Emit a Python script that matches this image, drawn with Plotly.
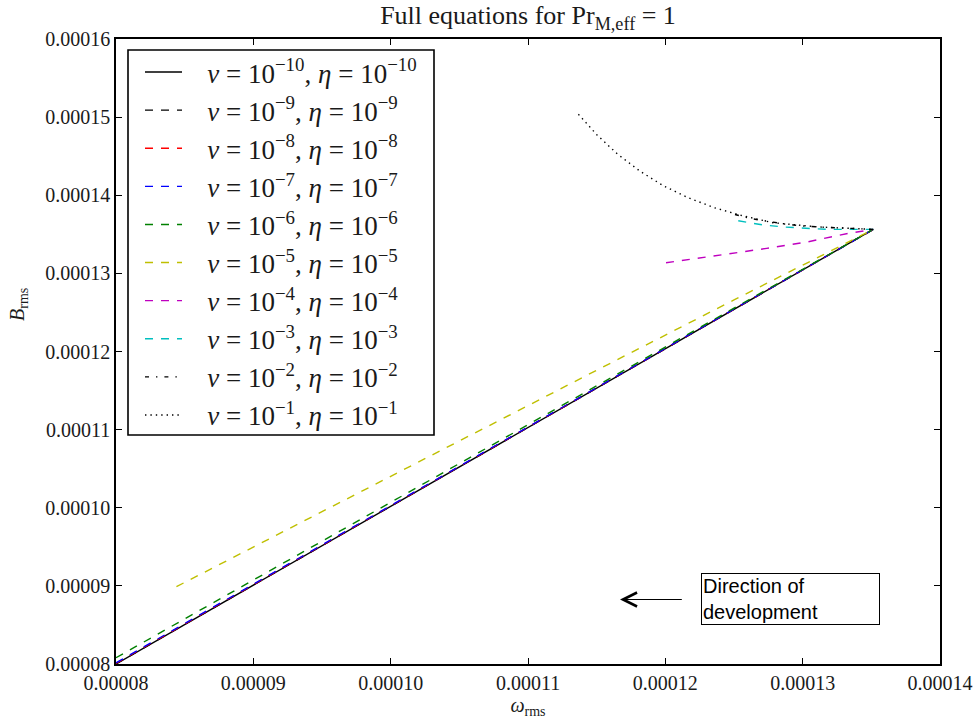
import plotly.graph_objects as go

# ---------------- data ----------------
exponents = ["10", "9", "8", "7", "6", "5", "4", "3", "2", "1"]
labels = [
    "\u00a0\u00a0\u00a0<i>ν</i> = 10<sup>−%s</sup>, <i>η</i> = 10<sup>−%s</sup>" % (e, e)
    for e in exponents
]

# omega_rms (x) and B_rms (y), units of 1e-5
w_1e10 = [8.0, 9.0, 10.0, 11.0, 12.0, 13.0, 13.514]
b_1e10 = [8.0, 9.01, 10.02, 11.03, 12.04, 13.05, 13.563]
w_1e9 = [8.0, 9.0, 10.0, 11.0, 12.0, 13.0, 13.514]
b_1e9 = [8.003, 9.012, 10.022, 11.032, 12.041, 13.051, 13.563]
w_1e8 = [8.0, 9.0, 10.0, 11.0, 12.0, 13.0, 13.514]
b_1e8 = [8.008, 9.016, 10.025, 11.034, 12.043, 13.052, 13.563]
w_1e7 = [8.0, 9.0, 10.0, 11.0, 12.0, 13.0, 13.514]
b_1e7 = [8.015, 9.022, 10.03, 11.038, 12.045, 13.053, 13.563]
w_1e6 = [8.0, 9.0, 10.0, 11.0, 12.0, 13.0, 13.514]
b_1e6 = [8.08, 9.076, 10.071, 11.067, 12.062, 13.057, 13.563]
w_1e5 = [8.44, 9.5, 10.5, 11.5, 12.5, 13.514]
b_1e5 = [8.99, 9.95, 10.86, 11.76, 12.66, 13.563]
w_1e4 = [12.005, 12.435, 12.738, 13.041, 13.332, 13.514]
b_1e4 = [13.136, 13.243, 13.320, 13.405, 13.512, 13.563]
w_1e3 = [12.531, 12.718, 12.871, 13.017, 13.177, 13.514]
b_1e3 = [13.673, 13.618, 13.593, 13.576, 13.563, 13.563]
w_1e2 = [12.507, 12.631, 12.871, 12.98, 13.126, 13.344, 13.514]
b_1e2 = [13.753, 13.699, 13.631, 13.61, 13.593, 13.576, 13.563]
w_1e1 = [11.367, 11.503, 11.651, 11.814, 11.985, 12.167, 12.357, 12.551, 12.784, 13.126, 13.417, 13.514]
b_1e1 = [15.036, 14.771, 14.528, 14.31, 14.122, 13.968, 13.84, 13.743, 13.648, 13.593, 13.571, 13.563]

series_w = [w_1e10, w_1e9, w_1e8, w_1e7, w_1e6, w_1e5, w_1e4, w_1e3, w_1e2, w_1e1]
series_b = [b_1e10, b_1e9, b_1e8, b_1e7, b_1e6, b_1e5, b_1e4, b_1e3, b_1e2, b_1e1]

x_ticks = [8, 9, 10, 11, 12, 13, 14]
y_ticks = [8, 9, 10, 11, 12, 13, 14, 15, 16]
SCALE = 1e-5

# ---------------- styles ----------------
colors = ["#000000", "#000000", "#FF0000", "#0000FF", "#008000",
          "#BFBF00", "#BF00BF", "#00BFBF", "#000000", "#000000"]
dashes = ["solid", "8px,8px", "8px,8px", "8px,8px", "8px,8px",
          "8px,8px", "8px,8px", "8px,8px", "4px,7px,1.4px,7px", "1.4px,4px"]

SERIF = "Liberation Serif, DejaVu Serif, serif"
TXT = "#1a1a1a"

fig = go.Figure()
for i, (w, b) in enumerate(zip(series_w, series_b)):
    fig.add_trace(go.Scatter(
        x=[v * SCALE for v in w],
        y=[v * SCALE for v in b],
        mode="lines",
        name=labels[i],
        legendgroup=f"g{i}",
        line=dict(color=colors[i], width=1.4, dash=dashes[i]),
    ))

axis_common = dict(
    showgrid=False, zeroline=False, showline=True, linecolor="black",
    linewidth=1.6, mirror="allticks", ticks="inside", ticklen=6,
    tickwidth=1, tickcolor="black", tickformat=".5f", automargin=False,
    tickfont=dict(family=SERIF, size=20, color=TXT),
)

fig.update_layout(
    width=978, height=719,
    margin=dict(l=116, r=38, t=39, b=55),
    paper_bgcolor="white", plot_bgcolor="white",
    title=dict(
        text="Full equations for Pr<sub>M,eff</sub> = 1",
        xref="paper", x=0.5, xanchor="center",
        yref="container", y=1 - 15 / 719, yanchor="middle",
        font=dict(family=SERIF, size=26, color=TXT),
    ),
    xaxis=dict(
        range=[8 * SCALE, 14 * SCALE],
        tickvals=[v * SCALE for v in x_ticks],
        title=dict(text="<i>ω</i><sub>rms</sub>", standoff=14,
                   font=dict(family=SERIF, size=20, color=TXT)),
        **axis_common,
    ),
    yaxis=dict(
        range=[8 * SCALE, 16 * SCALE],
        tickvals=[v * SCALE for v in y_ticks],
        **axis_common,
    ),
    legend=dict(
        x=(140 - 116) / 824, y=1 - (48 - 39) / 625,
        xanchor="left", yanchor="top",
        borderwidth=0, bgcolor="rgba(0,0,0,0)",
        font=dict(family=SERIF, size=27, color=TXT),
        itemwidth=37, tracegroupgap=0,
    ),
    showlegend=True,
)

# legend frame
fig.add_shape(
    type="rect", xref="paper", yref="paper",
    x0=(128 - 116) / 824, x1=(434 - 116) / 824,
    y0=1 - (435 - 39) / 625, y1=1 - (50 - 39) / 625,
    line=dict(color="black", width=1.6), fillcolor="rgba(0,0,0,0)",
    layer="above",
)

# y-axis label
fig.add_annotation(
    xref="paper", yref="paper", x=(18 - 116) / 824, y=1 - (305 - 39) / 625,
    text="<i>B</i><sub>rms</sub>", textangle=-90, showarrow=False,
    xanchor="center", yanchor="middle",
    font=dict(family=SERIF, size=20, color=TXT),
)

# text box
fig.add_annotation(
    x=0.00012915, y=0.00008837, xref="x", yref="y",
    text="Direction of<br>development", showarrow=False,
    align="left", width=175, borderpad=1,
    bordercolor="black", borderwidth=1, bgcolor="white",
    font=dict(family="Liberation Sans, Arial, sans-serif", size=20, color="black"),
)
# arrow
fig.add_annotation(
    x=0.0001167, y=0.00008826, xref="x", yref="y",
    ax=0.00012131, ay=0.00008826, axref="x", ayref="y",
    text="", showarrow=True, arrowhead=5, arrowsize=2.5,
    arrowwidth=1.1, arrowcolor="black",
)

fig.write_html("out.html")
